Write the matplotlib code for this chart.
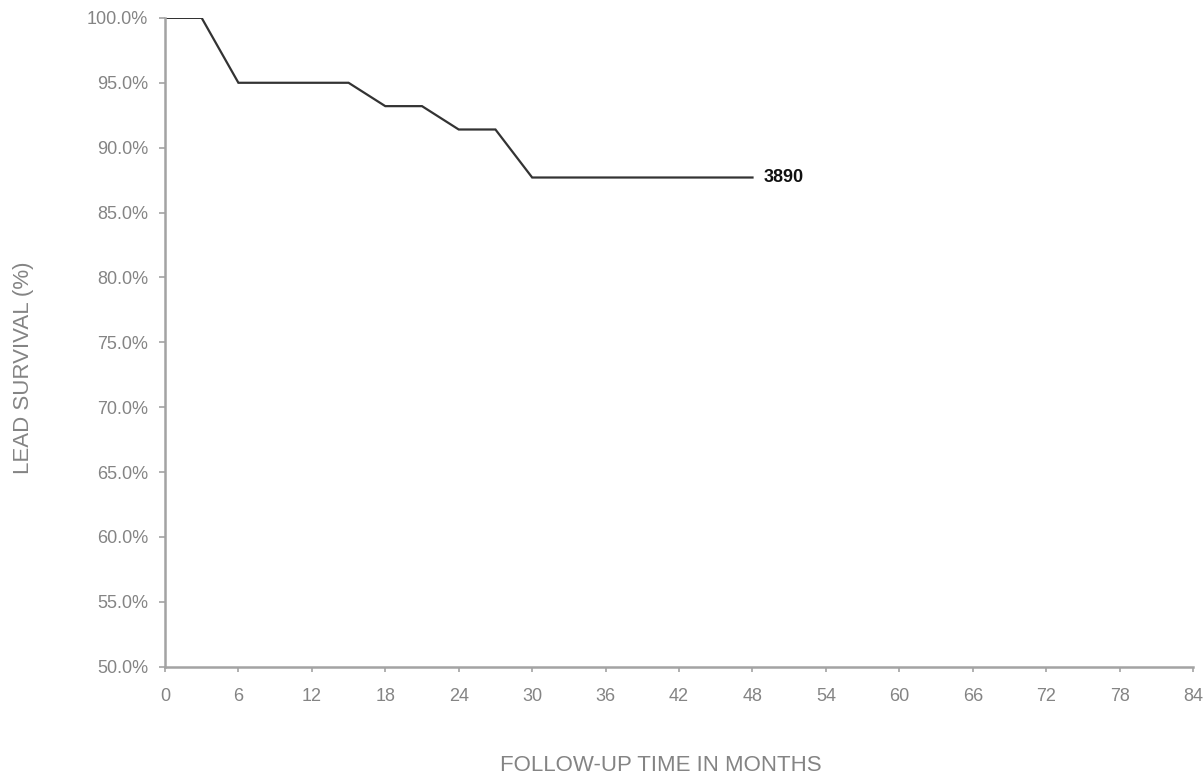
import matplotlib
matplotlib.use('Agg')
import matplotlib.pyplot as plt
from matplotlib.ticker import FuncFormatter

# lead survival curve for model 3890
months = [0, 3, 6, 15, 18, 21, 24, 27, 30, 48]
survival = [100.0, 100.0, 95.0, 95.0, 93.2, 93.2, 91.4, 91.4, 87.7, 87.7]
series_name = '3890'

x_ticks = list(range(0, 85, 6))
y_ticks = [50, 55, 60, 65, 70, 75, 80, 85, 90, 95, 100]

axis_grey = '#a3a3a3'
text_grey = '#848484'

plt.rcParams['font.family'] = ['Liberation Sans', 'DejaVu Sans']

fig = plt.figure(figsize=(12.04, 7.78), dpi=100)
ax = fig.add_axes([0.137, 0.143, 0.854, 0.834])

ax.plot(months, survival, color='#333333', linewidth=1.6, solid_joinstyle='miter')
ax.text(months[-1] + 0.9, survival[-1], series_name, fontsize=13, fontweight='bold',
        color='#111111', va='center', ha='left')

ax.set_xlim(0, 84)
ax.set_ylim(50, 100)
ax.set_xticks(x_ticks)
ax.set_yticks(y_ticks)
ax.yaxis.set_major_formatter(FuncFormatter(lambda v, p: '{:.1f}%'.format(v)))

for side in ('top', 'right'):
    ax.spines[side].set_visible(False)
for side in ('left', 'bottom'):
    ax.spines[side].set_color(axis_grey)
    ax.spines[side].set_linewidth(1.8)

ax.tick_params(axis='both', direction='out', width=1.2, color=axis_grey,
               labelcolor=text_grey, labelsize=13)
ax.tick_params(axis='x', length=3.6, pad=11.5)
ax.tick_params(axis='y', length=4, pad=8)

ax.set_xlabel('FOLLOW-UP TIME IN MONTHS', fontsize=16, color=text_grey,
              labelpad=36, x=0.4825)
ax.set_ylabel('LEAD SURVIVAL (%)', fontsize=16, color=text_grey,
              labelpad=38, y=0.461)

fig.savefig('out.png', dpi=100)
